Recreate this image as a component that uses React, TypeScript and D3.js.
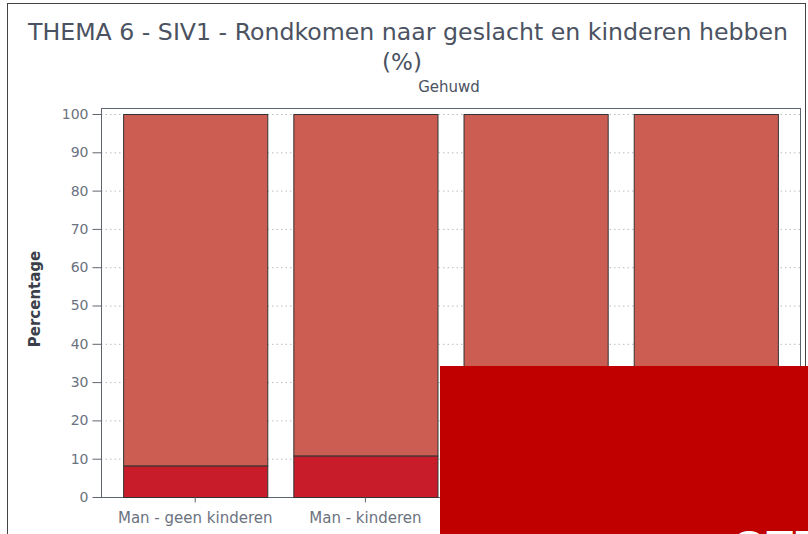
import { useEffect, useRef } from "react";
import * as d3 from "d3";

const categories = [
  "Man - geen kinderen",
  "Man - kinderen",
  "Vrouw - geen kinderen",
  "Vrouw - kinderen",
];
const lowerValues = [8.2, 10.8, 9.5, 9.0];
const upperValues = [91.8, 89.2, 90.5, 91.0];
const yTicks = [0, 10, 20, 30, 40, 50, 60, 70, 80, 90, 100];

const W = 808;
const H = 534;
const FONT = "'DejaVu Sans', sans-serif";

export default function App() {
  const svgRef = useRef<SVGSVGElement>(null);

  useEffect(() => {
    if (!svgRef.current) return;
    const svg = d3.select(svgRef.current);
    svg.selectAll("*").remove();

    const plot = { left: 101, right: 800, top: 108, bottom: 497 };

    svg
      .append("rect")
      .attr("width", W)
      .attr("height", H)
      .attr("fill", "#fff");

    // outer frame
    svg
      .append("rect")
      .attr("x", 7.5)
      .attr("y", 3.5)
      .attr("width", 798)
      .attr("height", H + 10)
      .attr("fill", "none")
      .attr("stroke", "#444")
      .attr("stroke-width", 1);

    svg
      .append("text")
      .attr("x", 408)
      .attr("y", 40)
      .attr("text-anchor", "middle")
      .attr("textLength", 760)
      .attr("lengthAdjust", "spacingAndGlyphs")
      .style("font-family", FONT)
      .style("font-size", "23px")
      .style("fill", "#4b5262")
      .text("THEMA 6 - SIV1 - Rondkomen naar geslacht en kinderen hebben");
    svg
      .append("text")
      .attr("x", 402)
      .attr("y", 70)
      .attr("text-anchor", "middle")
      .style("font-family", FONT)
      .style("font-size", "23px")
      .style("fill", "#4b5262")
      .text("(%)");
    svg
      .append("text")
      .attr("x", 449)
      .attr("y", 92)
      .attr("text-anchor", "middle")
      .style("font-family", FONT)
      .style("font-size", "15px")
      .style("fill", "#4b5262")
      .text("Gehuwd");

    const x = d3
      .scaleBand()
      .domain(categories)
      .range([plot.left, plot.right])
      .paddingInner(0.153)
      .paddingOuter(0.13);

    const y = d3.scaleLinear().domain([0, 100]).range([plot.bottom, 114]);

    // grid
    svg
      .append("g")
      .selectAll("line")
      .data(yTicks.slice(1))
      .enter()
      .append("line")
      .attr("x1", plot.left)
      .attr("x2", plot.right)
      .attr("y1", (d) => y(d) + 0.5)
      .attr("y2", (d) => y(d) + 0.5)
      .attr("stroke", "#b8bcc4")
      .attr("stroke-dasharray", "1.5,3");

    // plot frame
    svg
      .append("rect")
      .attr("x", plot.left + 0.5)
      .attr("y", plot.top + 0.5)
      .attr("width", plot.right - plot.left)
      .attr("height", plot.bottom - plot.top)
      .attr("fill", "none")
      .attr("stroke", "#5f6570");

    const bars = svg
      .append("g")
      .selectAll("g")
      .data(categories)
      .enter()
      .append("g");

    bars
      .append("rect")
      .attr("x", (d) => (x(d) ?? 0) + 0.5)
      .attr("y", (_, i) => y(lowerValues[i] + upperValues[i]) + 0.5)
      .attr("width", x.bandwidth())
      .attr("height", (_, i) => y(lowerValues[i]) - y(lowerValues[i] + upperValues[i]))
      .attr("fill", "#cb5d52")
      .attr("stroke", "#333")
      .attr("stroke-width", 1);

    bars
      .append("rect")
      .attr("x", (d) => (x(d) ?? 0) + 0.5)
      .attr("y", (_, i) => y(lowerValues[i]) + 0.5)
      .attr("width", x.bandwidth())
      .attr("height", (_, i) => y(0) - y(lowerValues[i]))
      .attr("fill", "#c91c2a")
      .attr("stroke", "#333")
      .attr("stroke-width", 1);

    // y axis
    svg
      .append("g")
      .attr("transform", `translate(${plot.left + 0.5},0)`)
      .call(d3.axisLeft(y).tickValues(yTicks).tickSize(9).tickPadding(4))
      .call((ax) => ax.select(".domain").remove())
      .call((ax) => ax.selectAll(".tick line").attr("stroke", "#5f6570"))
      .call((ax) =>
        ax
          .selectAll("text")
          .style("fill", "#6b7280")
          .style("font-size", "14px")
          .style("font-family", FONT)
      );

    // x axis
    svg
      .append("g")
      .attr("transform", `translate(0,${plot.bottom + 0.5})`)
      .call(d3.axisBottom(x).tickSize(5).tickPadding(10))
      .call((ax) => ax.select(".domain").remove())
      .call((ax) => ax.selectAll(".tick line").attr("stroke", "#5f6570"))
      .call((ax) =>
        ax
          .selectAll("text")
          .style("fill", "#6b7280")
          .style("font-size", "15px")
          .style("font-family", FONT)
      );

    svg
      .append("text")
      .attr("transform", "translate(40,299) rotate(-90)")
      .attr("text-anchor", "middle")
      .style("font-family", FONT)
      .style("font-size", "15px")
      .style("font-weight", "bold")
      .style("fill", "#3a3f4a")
      .text("Percentage");

    // overlay banner
    svg
      .append("rect")
      .attr("x", 440)
      .attr("y", 366)
      .attr("width", W - 440)
      .attr("height", H - 366)
      .attr("fill", "#c00000");
    svg
      .append("text")
      .attr("x", 732)
      .attr("y", 562)
      .style("font-family", "'Liberation Sans', Arial, sans-serif")
      .style("font-size", "44px")
      .style("font-weight", "bold")
      .style("fill", "#fff")
      .text("OTE");
  }, []);

  return (
    <svg
      ref={svgRef}
      width={W}
      height={H}
      style={{ position: "absolute", left: 0, top: 0, display: "block" }}
    />
  );
}
